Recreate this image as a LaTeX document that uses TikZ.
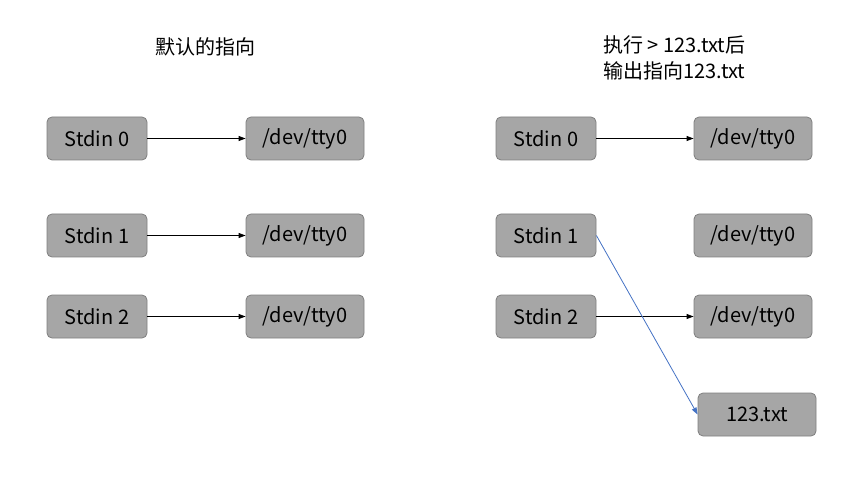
\documentclass[tikz,border=0pt]{standalone}
\usepackage{fontspec}
\setmainfont{Noto Sans CJK SC}
\usetikzlibrary{arrows.meta}
\definecolor{boxfill}{HTML}{A6A6A6}
\definecolor{boxline}{HTML}{7F7F7F}
\definecolor{blueline}{HTML}{4472C4}
\begin{document}
\begin{tikzpicture}[x=1pt,y=-1pt,
  box/.style={draw=boxline, fill=boxfill, rounded corners=5pt, line width=0.8pt,
    minimum height=43pt, inner sep=0pt, font=\fontsize{20}{24}\selectfont},
  sbox/.style={box, minimum width=100pt},
  tbox/.style={box, minimum width=118pt},
  arr/.style={-{Triangle[length=7pt,width=5pt]}, line width=0.8pt, black},
  title/.style={font=\fontsize{20}{26}\selectfont, inner sep=0pt}]
\useasboundingbox (0,0) rectangle (867,486);
\node[title] (t1) at (205,47) {默认的指向};
\node[title, align=left, anchor=north west] (t2) at (603,35) {执行 > 123.txt后\\输出指向123.txt};
% left
\node[sbox] (a0) at (97,138.5) {Stdin 0};
\node[sbox] (a1) at (97,235.5) {Stdin 1};
\node[sbox] (a2) at (97,316.5) {Stdin 2};
\node[tbox] (b0) at (305,138.5) {/dev/tty0};
\node[tbox] (b1) at (305,235.5) {/dev/tty0};
\node[tbox] (b2) at (305,316.5) {/dev/tty0};
\draw[arr] (a0) -- (b0);
\draw[arr] (a1) -- (b1);
\draw[arr] (a2) -- (b2);
% right
\node[sbox] (c0) at (546,138.5) {Stdin 0};
\node[sbox] (c1) at (546,235.5) {Stdin 1};
\node[sbox] (c2) at (546,316.5) {Stdin 2};
\node[tbox] (d0) at (753,138.5) {/dev/tty0};
\node[tbox] (d1) at (753,235.5) {/dev/tty0};
\node[tbox] (d2) at (753,316.5) {/dev/tty0};
\node[tbox] (e) at (757,414.5) {123.txt};
\draw[arr] (c0) -- (d0);
\draw[arr] (c2) -- (d2);
\draw[arr, blueline] (c1.east) -- (e.west);
\end{tikzpicture}
\end{document}
